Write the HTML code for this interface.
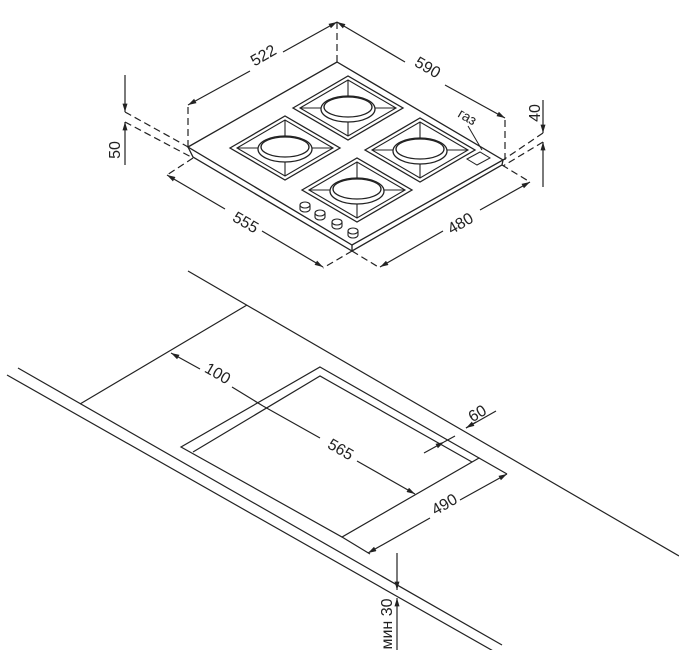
<!DOCTYPE html>
<html><head><meta charset="utf-8"><style>
html,body{margin:0;padding:0;background:#fff;}
svg{display:block;}
text{font-family:"Liberation Sans","DejaVu Sans",sans-serif;font-size:16px;fill:#222;}
</style></head><body>
<svg width="679" height="650" viewBox="0 0 679 650" xmlns="http://www.w3.org/2000/svg">
<defs>
<marker id="a" viewBox="0 0 10 6" refX="10" refY="3" markerWidth="9" markerHeight="5" orient="auto-start-reverse" markerUnits="userSpaceOnUse"><path d="M0,0 L10,3 L0,6z" fill="#222"/></marker>
<g id="burner">
<path d="M-55,0 L0,-32 L55,0 L0,32Z" fill="none" stroke="#222" stroke-width="1.3"/>
<path d="M-48,0 L0,-28 L48,0 L0,28Z" fill="none" stroke="#222" stroke-width="1.1"/>
<line x1="-48" y1="0" x2="48" y2="0" stroke="#222" stroke-width="1.1"/>
<line x1="0" y1="-28" x2="0" y2="28" stroke="#222" stroke-width="1.1"/>
<ellipse cx="0" cy="1" rx="27" ry="13" fill="#fff" stroke="#222" stroke-width="1.3"/>
<ellipse cx="0" cy="-1" rx="24" ry="10" fill="#fff" stroke="#222" stroke-width="1.3"/>
</g>
<g id="knob">
<path d="M-5,0 L-5,4 A5,3 0 0 0 5,4 L5,0" fill="#fff" stroke="#222" stroke-width="1.1"/>
<ellipse cx="0" cy="0" rx="5" ry="3" fill="#fff" stroke="#222" stroke-width="1.1"/>
</g>
</defs>
<g stroke="#222" stroke-width="1.3" fill="none">
<path d="M188,147 L337,62 L503,160 L352,245 Z"/>
<path d="M188,147 L193,157 L352,251 L502,165 L503,160"/>
<line x1="352" y1="245" x2="352" y2="251"/>
<path d="M467,159 L480,152 L490,158 L477,165Z" stroke-width="1"/>
<line x1="468" y1="126" x2="482" y2="150" stroke-width="1"/>
</g>
<use href="#burner" x="348" y="108"/>
<use href="#burner" x="285" y="148"/>
<use href="#burner" x="420" y="150"/>
<use href="#burner" x="357" y="190"/>
<use href="#knob" x="305" y="205"/>
<use href="#knob" x="320" y="213"/>
<use href="#knob" x="337" y="222"/>
<use href="#knob" x="353" y="231"/>
<g stroke="#222" stroke-width="1.2" fill="none">
<g stroke-dasharray="7,4">
<line x1="188" y1="147" x2="188" y2="105"/>
<line x1="337" y1="62" x2="337" y2="22"/>
<line x1="505" y1="160" x2="505" y2="118"/>
<line x1="193" y1="158" x2="167" y2="175"/>
<line x1="352" y1="251" x2="323" y2="268"/>
<line x1="352" y1="251" x2="380" y2="268"/>
<line x1="502" y1="165" x2="530" y2="182"/>
<line x1="125" y1="112" x2="190" y2="148"/>
<line x1="125" y1="122" x2="193" y2="158"/>
<line x1="543" y1="133" x2="503" y2="160"/>
<line x1="543" y1="142" x2="503" y2="166"/>
</g>
<line x1="188" y1="105" x2="250" y2="71" marker-start="url(#a)"/>
<line x1="283" y1="52" x2="337" y2="22" marker-end="url(#a)"/>
<line x1="337" y1="22" x2="405" y2="62" marker-start="url(#a)"/>
<line x1="445" y1="85" x2="505" y2="118" marker-end="url(#a)"/>
<line x1="167" y1="175" x2="225" y2="209" marker-start="url(#a)"/>
<line x1="262" y1="231" x2="323" y2="267" marker-end="url(#a)"/>
<line x1="380" y1="267" x2="443" y2="231" marker-start="url(#a)"/>
<line x1="480" y1="210" x2="530" y2="182" marker-end="url(#a)"/>
<line x1="125" y1="75" x2="125" y2="112" marker-end="url(#a)"/>
<line x1="125" y1="165" x2="125" y2="122" marker-end="url(#a)"/>
<line x1="543" y1="100" x2="543" y2="133" marker-end="url(#a)"/>
<line x1="543" y1="187" x2="543" y2="142" marker-end="url(#a)"/>
<line x1="188" y1="271" x2="679" y2="556"/>
<line x1="18" y1="368" x2="502" y2="645"/>
<line x1="7" y1="375" x2="495" y2="652"/>
<line x1="247" y1="305" x2="80" y2="404"/>
<path d="M320,367 L479,458 L342,537 L181,447 Z"/>
<path d="M193,452 L320,376 L472,462"/>
<line x1="171" y1="353" x2="200" y2="369" marker-start="url(#a)"/>
<line x1="232" y1="387" x2="263" y2="406"/>
<line x1="263" y1="406" x2="320" y2="438"/>
<line x1="357" y1="461" x2="415" y2="494" marker-end="url(#a)"/>
<line x1="424" y1="453" x2="444" y2="442" marker-end="url(#a)"/>
<line x1="444" y1="442" x2="455" y2="436"/>
<line x1="466" y1="428" x2="496" y2="411"/>
<line x1="476" y1="422" x2="466" y2="428" marker-end="url(#a)"/>
<line x1="342" y1="537" x2="370" y2="554"/>
<line x1="479" y1="458" x2="507" y2="474"/>
<line x1="368" y1="553" x2="430" y2="518" marker-start="url(#a)"/>
<line x1="460" y1="500" x2="507" y2="474" marker-end="url(#a)"/>
<line x1="397" y1="553" x2="397" y2="590" marker-end="url(#a)"/>
<line x1="397" y1="650" x2="397" y2="598" marker-end="url(#a)"/>
</g>
<text transform="translate(266,60) rotate(-30)" text-anchor="middle">522</text>
<text transform="translate(425,72) rotate(30)" text-anchor="middle">590</text>
<text transform="translate(243,227) rotate(30)" text-anchor="middle">555</text>
<text transform="translate(463,228) rotate(-30)" text-anchor="middle">480</text>
<text transform="translate(120,150) rotate(-90)" text-anchor="middle">50</text>
<text transform="translate(540,113) rotate(-90)" text-anchor="middle">40</text>
<text transform="translate(465,121) rotate(30)" text-anchor="middle" style="font-size:14px">газ</text>
<text transform="translate(215,378) rotate(30)" text-anchor="middle">100</text>
<text transform="translate(338,454) rotate(30)" text-anchor="middle">565</text>
<text transform="translate(480,418) rotate(-30)" text-anchor="middle">60</text>
<text transform="translate(447,509) rotate(-30)" text-anchor="middle">490</text>
<text transform="translate(392,624) rotate(-90)" text-anchor="middle">мин 30</text>
</svg>
</body></html>
